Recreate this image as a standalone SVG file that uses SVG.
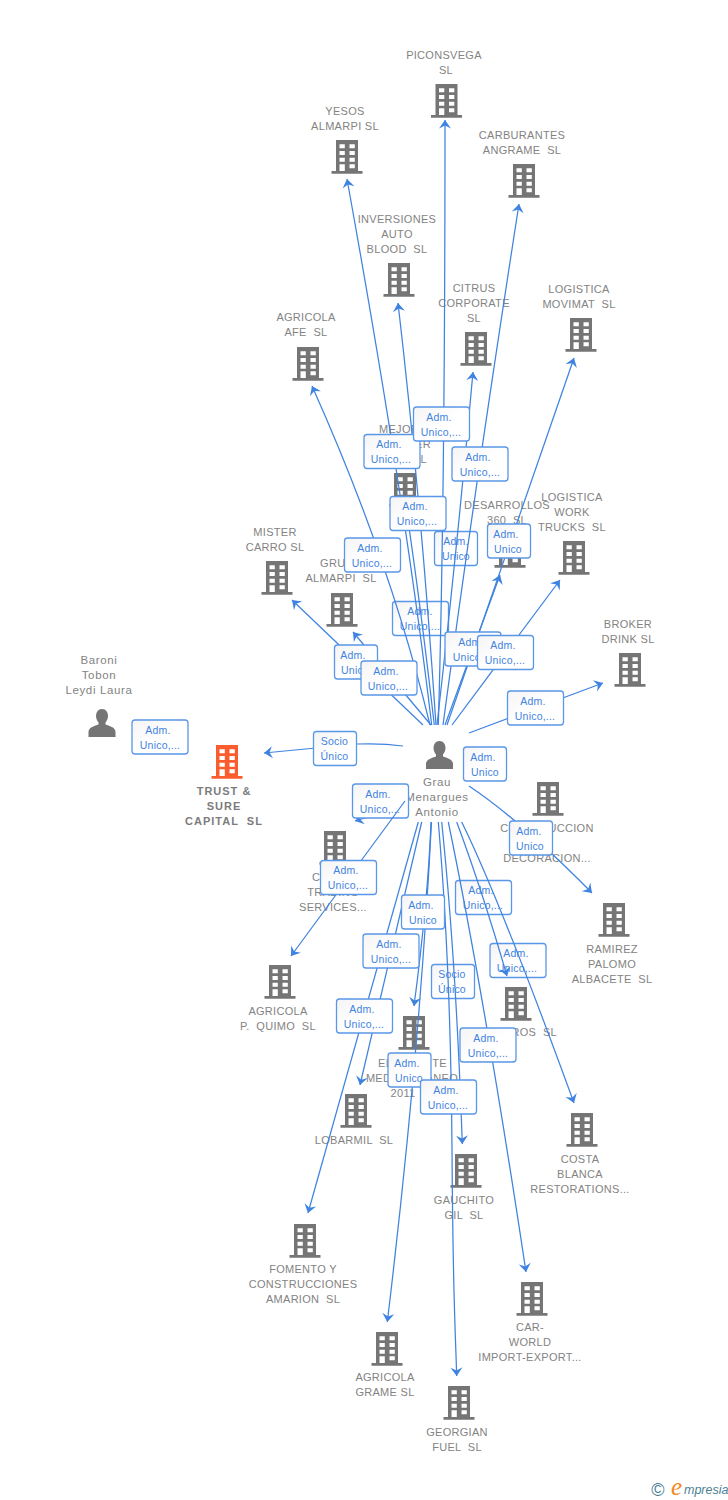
<svg xmlns="http://www.w3.org/2000/svg" width="728" height="1500" viewBox="0 0 728 1500">
<style>
text{font-family:"Liberation Sans",Arial,sans-serif}
.n text{font-size:11px;fill:#838383;letter-spacing:.3px;text-anchor:middle;white-space:pre}
.n text.s{text-anchor:start}
.n text.e{text-anchor:end}
.n.m text{font-size:11.5px;letter-spacing:.65px}
.t text{font-weight:bold;fill:#7c7c7c;letter-spacing:1px}
.c path{fill:none;stroke:#3f83e0;stroke-width:1.25;marker-end:url(#a)}
.l rect{fill:url(#g);stroke:#5a97e8;stroke-width:1.3}
.l text{font-size:10.5px;fill:#3f83e0;text-anchor:middle;letter-spacing:.2px}
</style>
<defs>
<linearGradient id="g" x1="0" y1="0" x2="1" y2="1"><stop offset="0" stop-color="#f4f4f4"/><stop offset=".5" stop-color="#fff"/><stop offset="1" stop-color="#fff"/></linearGradient>
<marker id="a" viewBox="-10 -7 11 14" markerWidth="11" markerHeight="14" refX="0" refY="0" orient="auto" markerUnits="userSpaceOnUse"><path d="M0,0L-8.500,-6L-5.500,0L-8.500,6Z" fill="#3f83e0"/></marker>
<path id="b" fill-rule="evenodd" d="M-11,0H11V31H15.5V33.7H-15.5V31H-11ZM-7.5,4.3V8.3H-2.2V4.3ZM2.5,4.3V8.3H7.8V4.3ZM-7.5,11V15H-2.2V11ZM2.5,11V15H7.8V11ZM-7.5,17.7V21.7H-2.2V17.7ZM2.5,17.7V21.7H7.8V17.7ZM-7.5,24.3V31H-2.2V24.3ZM2.5,24.3V28.3H7.8V24.3Z"/>
<path id="h" d="M0,0C4,0 6,3.5 6,7C6,10 4.7,12 3.5,13.5V15.5C7,17 13.5,18 13.5,23V28H-13.5V23C-13.5,18 -7,17 -3.5,15.5V13.5C-4.7,12 -6,10 -6,7C-6,3.5 -4,0 0,0Z"/>
</defs>
<rect width="728" height="1500" fill="#fff"/>

<g id="n-piconsvega" class="n"><text x="444" y="59">PICONSVEGA</text><text x="446" y="74">SL</text><use href="#b" x="446.5" y="84" fill="#757575"/></g>
<g id="n-yesos" class="n"><text x="345" y="115">YESOS</text><text x="345" y="130">ALMARPI SL</text><use href="#b" x="347" y="140" fill="#757575"/></g>
<g id="n-carburantes" class="n"><text x="522" y="139">CARBURANTES</text><text x="522" y="154">ANGRAME  SL</text><use href="#b" x="524" y="164" fill="#757575"/></g>
<g id="n-inversiones" class="n"><text x="397" y="223">INVERSIONES</text><text x="397" y="238">AUTO</text><text x="397" y="253">BLOOD  SL</text><use href="#b" x="399" y="263" fill="#757575"/></g>
<g id="n-citrus" class="n"><text x="474" y="292">CITRUS</text><text x="474" y="307">CORPORATE</text><text x="474" y="322">SL</text><use href="#b" x="476" y="332" fill="#757575"/></g>
<g id="n-movimat" class="n"><text x="579" y="293">LOGISTICA</text><text x="579" y="308">MOVIMAT  SL</text><use href="#b" x="581" y="318" fill="#757575"/></g>
<g id="n-afe" class="n"><text x="306" y="321">AGRICOLA</text><text x="306" y="336">AFE  SL</text><use href="#b" x="308" y="347" fill="#757575"/></g>
<g id="n-mejor" class="n"><text class="s" x="379" y="433">MEJOR</text><text class="e" x="431" y="448">ER</text><text class="e" x="427" y="463">SL</text><use href="#b" x="405" y="473" fill="#757575"/></g>
<g id="n-desarrollos" class="n"><text x="507" y="509">DESARROLLOS</text><text x="507" y="524">360  SL</text><use href="#b" x="510" y="534" fill="#757575"/></g>
<g id="n-work" class="n"><text x="572" y="501">LOGISTICA</text><text x="572" y="516">WORK</text><text x="572" y="531">TRUCKS  SL</text><use href="#b" x="574" y="541" fill="#757575"/></g>
<g id="n-mister" class="n"><text x="275" y="536">MISTER</text><text x="275" y="551">CARRO SL</text><use href="#b" x="277" y="561" fill="#757575"/></g>
<g id="n-almarpi" class="n"><text x="341" y="567">GRUPO</text><text x="341" y="582">ALMARPI  SL</text><use href="#b" x="342" y="593" fill="#757575"/></g>
<g id="n-broker" class="n"><text x="628" y="628">BROKER</text><text x="628" y="643">DRINK SL</text><use href="#b" x="630" y="653" fill="#757575"/></g>
<g id="n-baroni" class="n m"><text x="99" y="664">Baroni</text><text x="99" y="679">Tobon</text><text x="99" y="694">Leydi Laura</text><use href="#h" x="102" y="709" fill="#757575"/></g>
<g id="n-trust" class="n t"><text x="224" y="795">TRUST &amp;</text><text x="224" y="810">SURE</text><text x="224" y="825">CAPITAL  SL</text><use href="#b" x="227" y="745" fill="#fa5c2e"/></g>
<g id="n-grau" class="n m"><text x="437" y="786">Grau</text><text x="437" y="801">Menargues</text><text x="437" y="816">Antonio</text><use href="#h" x="439.5" y="741" fill="#757575"/></g>
<g id="n-construccion" class="n"><text x="547" y="832">CONSTRUCCION</text><text x="547" y="862">DECORACION...</text><use href="#b" x="548" y="782" fill="#757575"/></g>
<g id="n-trading" class="n"><text class="s" x="312" y="881">C</text><text x="333" y="896">TRADING</text><text x="333" y="911">SERVICES...</text><use href="#b" x="335" y="831" fill="#757575"/></g>
<g id="n-ramirez" class="n"><text x="612" y="953">RAMIREZ</text><text x="612" y="968">PALOMO</text><text x="612" y="983">ALBACETE  SL</text><use href="#b" x="614" y="903" fill="#757575"/></g>
<g id="n-quimo" class="n"><text x="278" y="1015">AGRICOLA</text><text x="278" y="1030">P.  QUIMO  SL</text><use href="#b" x="280" y="965" fill="#757575"/></g>
<g id="n-ros" class="n"><text class="e" x="557" y="1036">ROS  SL</text><use href="#b" x="516" y="987" fill="#757575"/></g>
<g id="n-el" class="n"><text class="s" x="378" y="1067">EL</text><text class="e" x="447" y="1067">TE</text><text x="412" y="1082">MEDITERRANEO</text><text x="403" y="1097">2011</text><use href="#b" x="414" y="1016" fill="#757575"/></g>
<g id="n-lobarmil" class="n"><text x="354" y="1144">LOBARMIL  SL</text><use href="#b" x="356" y="1094" fill="#757575"/></g>
<g id="n-costa" class="n"><text x="580" y="1163">COSTA</text><text x="580" y="1178">BLANCA</text><text x="580" y="1193">RESTORATIONS...</text><use href="#b" x="582" y="1113" fill="#757575"/></g>
<g id="n-gauchito" class="n"><text x="464" y="1204">GAUCHITO</text><text x="464" y="1219">GIL  SL</text><use href="#b" x="466" y="1154" fill="#757575"/></g>
<g id="n-fomento" class="n"><text x="303" y="1273">FOMENTO Y</text><text x="303" y="1288">CONSTRUCCIONES</text><text x="303" y="1303">AMARION  SL</text><use href="#b" x="305" y="1224" fill="#757575"/></g>
<g id="n-carworld" class="n"><text x="530" y="1331">CAR-</text><text x="530" y="1346">WORLD</text><text x="530" y="1361">IMPORT-EXPORT...</text><use href="#b" x="532" y="1282" fill="#757575"/></g>
<g id="n-grame" class="n"><text x="385" y="1381">AGRICOLA</text><text x="385" y="1396">GRAME SL</text><use href="#b" x="387" y="1332" fill="#757575"/></g>
<g id="n-georgian" class="n"><text x="457" y="1436">GEORGIAN</text><text x="457" y="1451">FUEL  SL</text><use href="#b" x="459" y="1386" fill="#757575"/></g>

<g id="connectors">
<g class="c"><path d="M398,808L355,821"/></g>
<g class="l">
<rect x="392.500" y="601.500" width="56" height="34" rx="3"/><text x="420" y="615">Adm.</text><text x="420" y="630">Unico,...</text>
<rect x="434.500" y="531.500" width="43" height="34" rx="3"/><text x="456" y="545">Adm.</text><text x="456" y="560">Unico</text>
<rect x="431.500" y="964.500" width="43" height="34" rx="3"/><text x="452" y="978">Socio</text><text x="452" y="993">Único</text>
<rect x="455.500" y="880.500" width="56" height="34" rx="3"/><text x="481" y="894">Adm.</text><text x="483" y="909">Unico,...</text>
<rect x="490" y="943.500" width="56" height="34" rx="3"/><text x="516" y="957">Adm.</text><text x="517" y="972">Unico,...</text>
<rect x="352.500" y="784" width="56" height="34" rx="3"/><text x="378" y="798">Adm.</text><text x="380" y="813">Unico,...</text>
</g>
<g class="c">
<path d="M431.700,725Q405,500 347,179"/>
<path d="M438.300,725Q445,500 445,120"/>
<path d="M436,725Q421,500 398,303"/>
<path d="M443,725Q476,480 519,204"/>
<path d="M437,725Q458,540 473,372"/>
<path d="M447,725L574,358"/>
<path d="M445,725L500,575"/>
<path d="M452,725L560,580"/>
<path d="M469,733L603,683"/>
<path d="M434.300,725Q420,600 405,500"/>
<path d="M430,725Q390,560 312,386"/>
<path d="M423,725L292,600"/>
<path d="M431,725L353,632"/>
<path d="M403,746Q382,743 357,744Q335,746 264,753"/>
<path d="M405,801L291,956"/>
<path d="M469,786Q520,820 592,893"/>
<path d="M431,822Q428,900 414,1006"/>
<path d="M431.500,822Q420,1050 387.300,1322"/>
<path d="M421.700,822L360,1085"/>
<path d="M418.300,822L308,1213"/>
<path d="M438.300,822C445,900 451,1000 452,1150S455,1320 456.700,1376"/>
<path d="M441.700,822Q456,960 462.300,1144"/>
<path d="M448.300,822Q485,1000 526,1272"/>
<path d="M456.700,822Q482,890 507,976"/>
<path d="M461.700,822Q500,900 574,1103"/>
</g>
<g class="l">
<rect x="132" y="720" width="56" height="34" rx="3"/><text x="158" y="734">Adm.</text><text x="160" y="749">Unico,...</text>
<rect x="313.500" y="731.500" width="43" height="34" rx="3"/><text x="334.500" y="745">Socio</text><text x="334.500" y="760">Único</text>
<rect x="364" y="434.500" width="56" height="34" rx="3"/><text x="389" y="448">Adm.</text><text x="391" y="463">Unico,...</text>
<rect x="413.500" y="407" width="56" height="34" rx="3"/><text x="439" y="421">Adm.</text><text x="441" y="436">Unico,...</text>
<rect x="452" y="447" width="56" height="34" rx="3"/><text x="478" y="461">Adm.</text><text x="480" y="476">Unico,...</text>
<rect x="390" y="496.500" width="56" height="34" rx="3"/><text x="415" y="510">Adm.</text><text x="417" y="525">Unico,...</text>
<rect x="344.500" y="538" width="56" height="34" rx="3"/><text x="370" y="552">Adm.</text><text x="372" y="567">Unico,...</text>
<rect x="487.500" y="524" width="43" height="34" rx="3"/><text x="506" y="538">Adm.</text><text x="508" y="553">Unico</text>
<rect x="334.500" y="645" width="43" height="34" rx="3"/><text x="353" y="659">Adm.</text><text x="355" y="674">Unico</text>
<rect x="361" y="661" width="56" height="34" rx="3"/><text x="386" y="675">Adm.</text><text x="388" y="690">Unico,...</text>
<rect x="445" y="632" width="56" height="34" rx="3"/><text x="471" y="646">Adm.</text><text x="473" y="661">Unico,...</text>
<rect x="477.500" y="635.500" width="56" height="34" rx="3"/><text x="503" y="649">Adm.</text><text x="505" y="664">Unico,...</text>
<rect x="507.500" y="691" width="56" height="34" rx="3"/><text x="533" y="705">Adm.</text><text x="535" y="720">Unico,...</text>
<rect x="463.500" y="747" width="43" height="34" rx="3"/><text x="483" y="761">Adm.</text><text x="485" y="776">Unico</text>
<rect x="509.500" y="821" width="43" height="34" rx="3"/><text x="529" y="835">Adm.</text><text x="530" y="850">Unico</text>
<rect x="320.500" y="860.500" width="56" height="34" rx="3"/><text x="346" y="874">Adm.</text><text x="348" y="889">Unico,...</text>
<rect x="401.500" y="895" width="43" height="34" rx="3"/><text x="421" y="909">Adm.</text><text x="423" y="924">Unico</text>
<rect x="363" y="934" width="56" height="34" rx="3"/><text x="389" y="948">Adm.</text><text x="391" y="963">Unico,...</text>
<rect x="336.500" y="999" width="56" height="34" rx="3"/><text x="362" y="1013">Adm.</text><text x="364" y="1028">Unico,...</text>
<rect x="460" y="1028" width="56" height="34" rx="3"/><text x="486" y="1042">Adm.</text><text x="488" y="1057">Unico,...</text>
<rect x="388" y="1053" width="43" height="34" rx="3"/><text x="407" y="1067">Adm.</text><text x="409" y="1082">Unico</text>
<rect x="420.500" y="1080" width="56" height="34" rx="3"/><text x="446" y="1094">Adm.</text><text x="448" y="1109">Unico,...</text>
</g>
</g>

<g id="logo">
<text x="658" y="1495.500" font-size="18" fill="#4d7f94" text-anchor="middle">©</text>
<text x="671" y="1495" font-size="25" font-style="italic" fill="#f08a24" style="font-family:'Liberation Serif',serif">e</text>
<text x="684" y="1494" font-size="12.500" font-style="italic" fill="#4d7f94" style="font-family:'Liberation Sans',sans-serif">mpresia</text>
</g>
</svg>
